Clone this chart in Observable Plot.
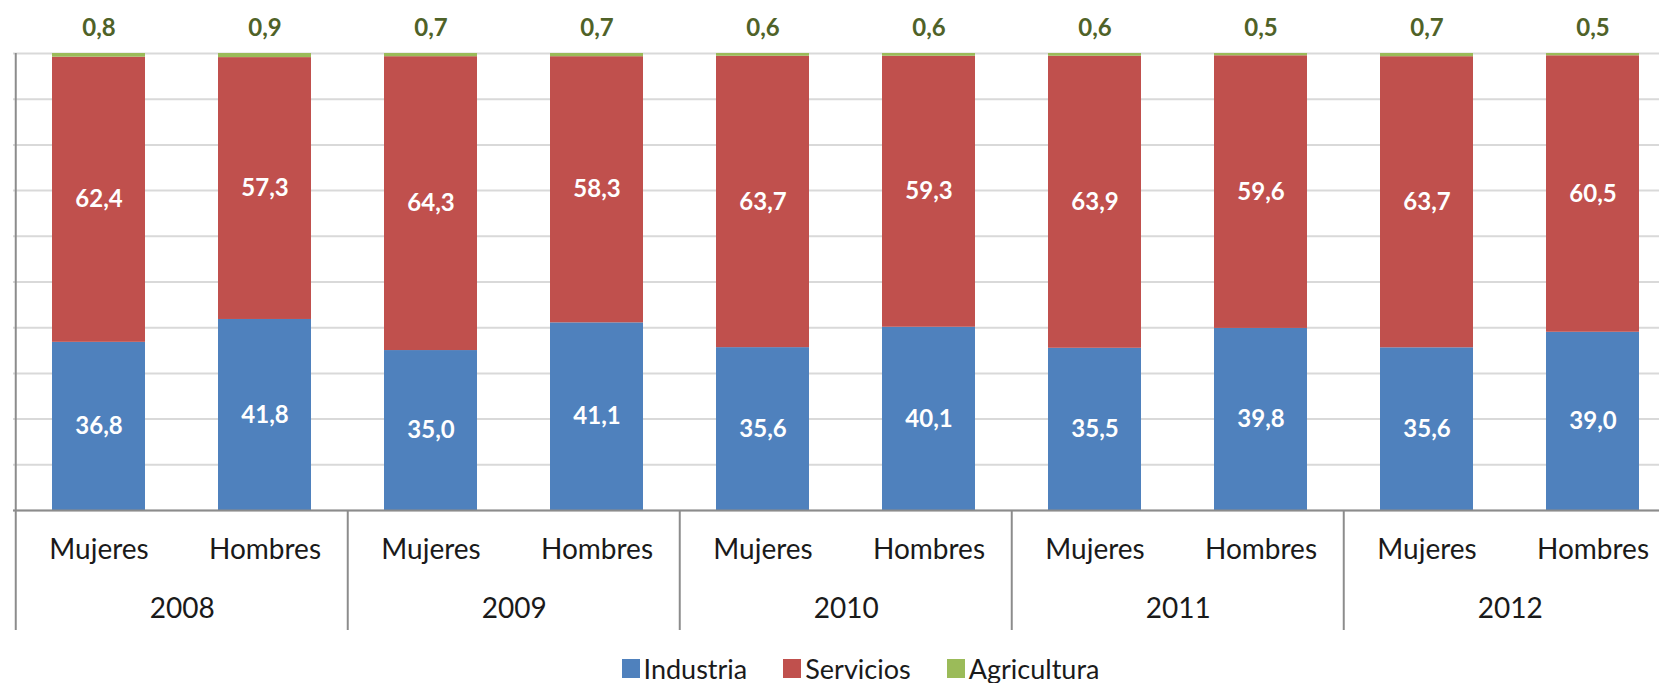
<!DOCTYPE html>
<html>
<head>
<meta charset="utf-8">
<script src="https://cdn.jsdelivr.net/npm/d3@7"></script>
<script src="https://cdn.jsdelivr.net/npm/@observablehq/plot@0.6"></script>
<style>
  html, body { margin: 0; padding: 0; background: #fff; overflow: hidden; }
  body { position: relative; width: 1659px; height: 683px; }
  #chart { position: absolute; left: 0; top: 0; width: 1659px; height: 650px; overflow: hidden; }
  #chart svg { max-width: none !important; }
  #legend { position: absolute; left: 0; top: 655px; width: 1659px; height: 27px; line-height: 27px; display: flex; justify-content: center; align-items: center;
    font-family: Lato, "Noto Sans", sans-serif; font-size: 27px; color: #1a1a1a; padding-left: 62px; box-sizing: border-box; }
  .item { display: flex; align-items: center; margin: 0 18px; }
  .sw { width: 18px; height: 19px; margin-right: 4px; }
</style>
</head>
<body>
<div id="chart"></div>
<div id="legend"></div>
<script>
const years = [2008, 2009, 2010, 2011, 2012];
const sexes = ["Mujeres", "Hombres"];
const sectors = ["Industria", "Servicios", "Agricultura"];
const colors = ["#4F81BD", "#C0504D", "#9BBB59"];
// values in order: 2008 Mujeres, 2008 Hombres, 2009 Mujeres, ...
const industria   = [36.8, 41.8, 35.0, 41.1, 35.6, 40.1, 35.5, 39.8, 35.6, 39.0];
const servicios   = [62.4, 57.3, 64.3, 58.3, 63.7, 59.3, 63.9, 59.6, 63.7, 60.5];
const agricultura = [0.8, 0.9, 0.7, 0.7, 0.6, 0.6, 0.6, 0.5, 0.7, 0.5];

const series = [industria, servicios, agricultura];
const keys = [];
const rows = [];
years.forEach((yr, i) => sexes.forEach((sx, j) => {
  const k = yr + " " + sx;
  keys.push(k);
  const idx = i * 2 + j;
  sectors.forEach((s, si) => rows.push({key: k, year: yr, sex: sx, sector: s, value: series[si][idx]}));
}));
const axisRows = keys.map(k => ({key: k, sex: k.split(" ")[1]}));
const yearRows = years.map(y => ({key: y + " " + sexes[0], year: String(y)}));

const loc = d3.formatLocale({decimal: ",", thousands: ".", grouping: [3], currency: ["", ""]});
const fmt = loc.format(".1f");

const W = 1680, ML = 13, MR = 2;
const step = (W - ML - MR) / keys.length;
const FONT = "Lato, 'Noto Sans', sans-serif";

const chart = Plot.plot({
  width: W,
  height: 650,
  marginTop: 53,
  marginLeft: ML,
  marginRight: MR,
  marginBottom: 140,
  style: {fontFamily: FONT, background: "#fff", overflow: "visible", maxWidth: "none"},
  x: {domain: keys, paddingInner: 0.44, paddingOuter: 0.22, axis: null},
  y: {domain: [0, 1], axis: null},
  color: {domain: sectors, range: colors},
  marks: [
    Plot.gridY(d3.range(0, 11).map(d => d / 10), {stroke: "#d9d9d9", strokeOpacity: 1, strokeWidth: 2}),
    Plot.barY(rows, Plot.stackY({x: "key", y: "value", z: "sector", fill: "sector", offset: "normalize", order: sectors})),
    Plot.text(rows, Plot.stackY({x: "key", y: "value", z: "sector", offset: "normalize", order: sectors,
      text: d => d.sector === "Agricultura" ? null : fmt(d.value),
      fill: "white", fontSize: 24, fontWeight: 700})),
    Plot.text(rows, Plot.stackY2({x: "key", y: "value", z: "sector", offset: "normalize", order: sectors,
      text: d => d.sector === "Agricultura" ? fmt(d.value) : null,
      fill: "#4F6228", fontSize: 24, fontWeight: 700, dy: -25})),
    Plot.ruleY([0], {stroke: "#8c8c8c", strokeWidth: 2}),
    Plot.ruleX(yearRows.slice(0, 1), {x: "key", dx: -step / 2, y1: 0, y2: 1, stroke: "#8c8c8c", strokeWidth: 2}),
    Plot.ruleX(yearRows, {x: "key", dx: -step / 2, y1: 0, y2: 0, insetBottom: -120, stroke: "#8c8c8c", strokeWidth: 2}),
    Plot.text(axisRows, {x: "key", y: () => 0, text: "sex", dy: 40, fontSize: 28, fill: "#1a1a1a"}),
    Plot.text(yearRows, {x: "key", y: () => 0, text: "year", dx: step / 2, dy: 99, fontSize: 28, fill: "#1a1a1a"})
  ]
});
document.getElementById("chart").appendChild(chart);

const legend = document.getElementById("legend");
sectors.forEach((s, i) => {
  const it = document.createElement("div");
  it.className = "item";
  const sw = document.createElement("div");
  sw.className = "sw";
  sw.style.background = colors[i];
  const t = document.createElement("span");
  t.textContent = s;
  it.appendChild(sw);
  it.appendChild(t);
  legend.appendChild(it);
});
</script>
</body>
</html>
